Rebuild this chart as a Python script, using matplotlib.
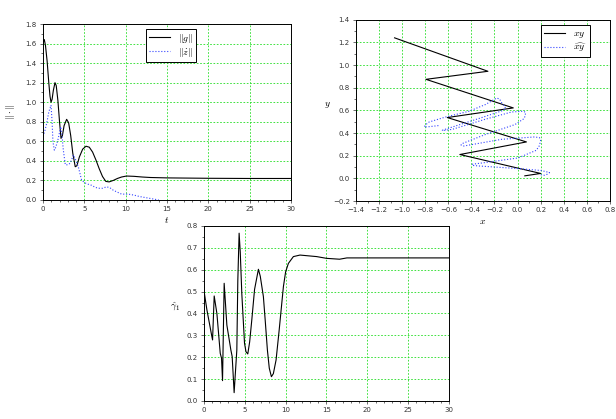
import numpy as np
import matplotlib.pyplot as plt
from matplotlib.ticker import MultipleLocator

plt.rcParams['mathtext.fontset'] = 'cm'
plt.rcParams['font.size'] = 5

# ||g|| и ||z'|| по времени
t_g = [0, 0.08, 0.16, 0.3, 0.5, 0.7, 0.85, 0.97, 1.1, 1.25, 1.45, 1.6, 1.8, 2.0, 2.18, 2.35,
       2.55, 2.86, 3.1, 3.35, 3.6, 3.9, 4.1, 4.4, 4.8, 5.2, 5.6, 6.0, 6.4, 6.8, 7.2, 7.6, 8.0,
       8.5, 9.0, 9.5, 10.1, 11, 12, 13, 15, 20, 25, 30]
g_norm = [1.60, 1.63, 1.64, 1.58, 1.42, 1.2, 1.06, 1.0, 1.03, 1.12, 1.2, 1.17, 1.02, 0.80, 0.63, 0.66,
          0.76, 0.825, 0.79, 0.66, 0.48, 0.34, 0.35, 0.44, 0.52, 0.55, 0.54, 0.49, 0.41, 0.32, 0.24, 0.19, 0.185,
          0.20, 0.22, 0.235, 0.245, 0.242, 0.235, 0.23, 0.226, 0.222, 0.22, 0.22]

t_z = [0, 0.2, 0.44, 0.7, 0.97, 1.1, 1.2, 1.37, 1.55, 1.85, 2.14, 2.3, 2.46, 2.7, 3.0, 3.27,
       3.5, 3.67, 3.9, 4.27, 4.68, 5.2, 5.5, 5.9, 6.3, 6.7, 7.2, 7.7, 8.1, 8.5, 9.0, 9.5,
       10.3, 11, 11.7, 12.9, 14.0]
z_norm = [0.65, 0.70, 0.78, 0.90, 0.97, 0.80, 0.60, 0.51, 0.54, 0.63, 0.75, 0.66, 0.51, 0.36, 0.36, 0.375,
          0.42, 0.46, 0.42, 0.34, 0.20, 0.17, 0.16, 0.15, 0.13, 0.12, 0.12, 0.135, 0.125, 0.10, 0.08, 0.06,
          0.06, 0.05, 0.035, 0.017, 0.0]

# траектории xy и оценка
x_true = [-1.066, -0.257, -0.794, -0.037, -0.609, 0.077, -0.50, 0.20, 0.063]
y_true = [1.24, 0.945, 0.874, 0.622, 0.537, 0.322, 0.211, 0.044, 0.023]

x_est = [-0.686, -0.78, -0.809, -0.795, -0.766, -0.623, -0.423, -0.280, -0.181, -0.155, -0.143, -0.103,
         -0.125, -0.166, -0.337, -0.537, -0.652, -0.63, -0.566, -0.280, -0.052, 0.04, 0.068, 0.068, 0.057,
         -0.023, -0.280, -0.481, -0.49, -0.466, -0.138, 0.148, 0.19, 0.200, 0.19, 0.162, 0.005, -0.280,
         -0.395, -0.39, -0.337, 0.005, 0.205, 0.277, 0.26, 0.234, 0.191]
y_est = [0.466, 0.455, 0.454, 0.475, 0.498, 0.542, 0.592, 0.651, 0.709, 0.70, 0.674, 0.621,
         0.60, 0.586, 0.528, 0.463, 0.425, 0.424, 0.433, 0.522, 0.586, 0.592, 0.586, 0.56, 0.528,
         0.475, 0.387, 0.307, 0.295, 0.286, 0.345, 0.366, 0.36, 0.337, 0.29, 0.248, 0.181, 0.140,
         0.125, 0.115, 0.110, 0.087, 0.070, 0.052, 0.038, 0.028, 0.034]

# gamma_1
t_gam = [0, 0.37, 0.98, 1.06, 1.26, 1.59, 2.0, 2.16, 2.28, 2.48, 2.81, 3.3, 3.46, 3.7, 4.03,
         4.15, 4.31, 4.45, 4.64, 4.97, 5.15, 5.37, 5.6, 5.86, 6.2, 6.67, 6.9, 7.28, 7.5, 7.77,
         8.0, 8.26, 8.5, 8.83, 9.2, 9.73, 10.0, 10.34, 10.95, 11.76, 13.8, 15, 16.6, 17.5, 30]
gam = [0.507, 0.416, 0.294, 0.279, 0.48, 0.40, 0.218, 0.195, 0.093, 0.538, 0.347, 0.233, 0.203, 0.038, 0.233,
       0.55, 0.767, 0.68, 0.49, 0.264, 0.225, 0.215, 0.27, 0.37, 0.51, 0.602, 0.57, 0.477, 0.37, 0.233,
       0.15, 0.111, 0.125, 0.187, 0.32, 0.523, 0.59, 0.629, 0.66, 0.667, 0.66, 0.652, 0.648, 0.654, 0.654]

grid_kw = dict(color='#22dd22', linestyle=(0, (2, 2)), linewidth=0.6)


def style(ax):
    ax.grid(True, **grid_kw)
    ax.tick_params(which='both', direction='out', labelsize=5, colors='#333333', pad=2)
    ax.tick_params(which='major', length=2.5, width=0.5)
    ax.tick_params(which='minor', length=1.5, width=0.5)
    for s in ax.spines.values():
        s.set_linewidth(0.7)


fig = plt.figure(figsize=(6.16, 4.19), dpi=100)

ax1 = fig.add_axes([0.0698, 0.5227, 0.4026, 0.42])
ax1.plot(t_g, g_norm, color='black', lw=0.8, label=r'$\|g\|$')
ax1.plot(t_z, z_norm, color='#3344ff', lw=0.8, linestyle=':', label=r'$\|\dot{z}\|$')
ax1.set_xlim(0, 30)
ax1.set_ylim(0, 1.8)
ax1.xaxis.set_major_locator(MultipleLocator(5))
ax1.xaxis.set_minor_locator(MultipleLocator(1))
ax1.yaxis.set_major_locator(MultipleLocator(0.2))
ax1.yaxis.set_minor_locator(MultipleLocator(0.1))
ax1.set_xlabel('$t$', fontsize=7, labelpad=2)
ax1.set_ylabel(r'$\|\cdot\|$', fontsize=7, labelpad=6)
style(ax1)
ax1.legend(loc='upper left', bbox_to_anchor=(0.395, 1.0), fontsize=7, fancybox=False,
           edgecolor='black', framealpha=1, borderpad=0.3, handlelength=2.2,
           labelspacing=0.1).get_frame().set_linewidth(0.7)

ax2 = fig.add_axes([0.578, 0.520, 0.412, 0.433])
ax2.plot(x_true, y_true, color='black', lw=0.8, label='$xy$')
ax2.plot(x_est, y_est, color='#3344ff', lw=0.8, linestyle=':', label=r'$\widehat{xy}$')
ax2.set_xlim(-1.4, 0.8)
ax2.set_ylim(-0.2, 1.4)
ax2.xaxis.set_major_locator(MultipleLocator(0.2))
ax2.xaxis.set_minor_locator(MultipleLocator(0.1))
ax2.yaxis.set_major_locator(MultipleLocator(0.2))
ax2.yaxis.set_minor_locator(MultipleLocator(0.1))
ax2.set_xlabel('$x$', fontsize=7, labelpad=2)
ax2.set_ylabel('$y$', fontsize=7, labelpad=4, rotation=0)
style(ax2)
ax2.legend(loc='upper right', bbox_to_anchor=(0.94, 0.995), fontsize=7, fancybox=False,
           edgecolor='black', framealpha=1, borderpad=0.3, handlelength=2.2,
           labelspacing=0.1).get_frame().set_linewidth(0.7)

ax3 = fig.add_axes([0.331, 0.043, 0.398, 0.4177])
ax3.plot(t_gam, gam, color='black', lw=0.8)
ax3.set_xlim(0, 30)
ax3.set_ylim(0, 0.8)
ax3.xaxis.set_major_locator(MultipleLocator(5))
ax3.xaxis.set_minor_locator(MultipleLocator(1))
ax3.yaxis.set_major_locator(MultipleLocator(0.1))
ax3.yaxis.set_minor_locator(MultipleLocator(0.05))
ax3.set_ylabel(r'$\hat{\gamma}_1$', fontsize=7, labelpad=8, rotation=0)
style(ax3)

plt.savefig('out.png', dpi=100)
